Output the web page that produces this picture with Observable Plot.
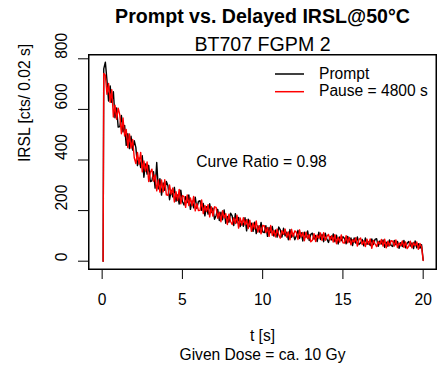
<!DOCTYPE html>
<html>
<head>
<meta charset="utf-8">
<script src="https://cdn.jsdelivr.net/npm/d3@7"></script>
<script src="https://cdn.jsdelivr.net/npm/@observablehq/plot@0.6"></script>
<style>
  html, body { margin: 0; padding: 0; background: #fff; }
  #chart { position: relative; width: 446px; height: 372px; }
  #chart > svg { display: block; }
  #box { position: absolute; box-sizing: border-box; border: 1px solid #000; pointer-events: none; }
</style>
</head>
<body>
<div id="chart"></div>
<script>
// ---- Texts ----
const titleText = "Prompt vs. Delayed IRSL@50°C";
const subtitleText = "BT707 FGPM 2";
const xLabel = "t [s]";
const doseLabel = "Given Dose = ca. 10 Gy";
const yLabel = "IRSL [cts/ 0.02 s]";
const ratioLabel = "Curve Ratio = 0.98";
const seriesNames = ["Prompt", "Pause = 4800 s"];
const seriesColors = ["#000000", "#ff0000"];

// ---- Tick values ----
const xTicks = [0, 5, 10, 15, 20];
const yTicks = [0, 200, 400, 600, 800];

// ---- Channel times [s] ----
const time = [0.06,
  0.1,0.2,0.3,0.4,0.5,0.6,0.7,0.8,0.9,1.0,
  1.1,1.2,1.3,1.4,1.5,1.6,1.7,1.8,1.9,2.0,
  2.1,2.2,2.3,2.4,2.5,2.6,2.7,2.8,2.9,3.0,
  3.1,3.2,3.3,3.4,3.5,3.6,3.7,3.8,3.9,4.0,
  4.1,4.2,4.3,4.4,4.5,4.6,4.7,4.8,4.9,5.0,
  5.1,5.2,5.3,5.4,5.5,5.6,5.7,5.8,5.9,6.0,
  6.1,6.2,6.3,6.4,6.5,6.6,6.7,6.8,6.9,7.0,
  7.1,7.2,7.3,7.4,7.5,7.6,7.7,7.8,7.9,8.0,
  8.1,8.2,8.3,8.4,8.5,8.6,8.7,8.8,8.9,9.0,
  9.1,9.2,9.3,9.4,9.5,9.6,9.7,9.8,9.9,10.0,
  10.1,10.2,10.3,10.4,10.5,10.6,10.7,10.8,10.9,11.0,
  11.1,11.2,11.3,11.4,11.5,11.6,11.7,11.8,11.9,12.0,
  12.1,12.2,12.3,12.4,12.5,12.6,12.7,12.8,12.9,13.0,
  13.1,13.2,13.3,13.4,13.5,13.6,13.7,13.8,13.9,14.0,
  14.1,14.2,14.3,14.4,14.5,14.6,14.7,14.8,14.9,15.0,
  15.1,15.2,15.3,15.4,15.5,15.6,15.7,15.8,15.9,16.0,
  16.1,16.2,16.3,16.4,16.5,16.6,16.7,16.8,16.9,17.0,
  17.1,17.2,17.3,17.4,17.5,17.6,17.7,17.8,17.9,18.0,
  18.1,18.2,18.3,18.4,18.5,18.6,18.7,18.8,18.9,19.0,
  19.1,19.2,19.3,19.4,19.5,19.6,19.7,19.8,19.9,
  20.0];

// ---- Prompt IRSL [cts / 0.02 s] ----
const prompt = [0,
  760,787,715,633,693,628,670,567,606,530,
  532,576,511,537,458,504,445,494,439,476,
  450,378,408,370,417,332,384,344,379,315,
  318,354,289,390,286,326,261,309,280,315,
  298,243,281,254,292,237,262,226,281,236,
  222,255,232,262,205,238,211,253,209,236,
  239,201,228,179,215,186,227,192,210,166,
  181,205,161,194,164,203,150,177,154,190,
  179,141,188,151,173,137,158,138,172,120,
  166,137,150,118,154,109,140,115,153,116,
  113,140,98,133,113,137,99,123,95,135,
  124,95,130,100,115,85,125,95,110,85,
  100,122,90,113,80,115,94,120,82,106,
  111,87,102,78,115,86,106,77,111,88,
  74,98,84,108,77,103,68,96,81,97,
  90,69,98,76,92,62,92,72,96,66,
  72,86,61,92,67,77,62,88,66,86,
  89,59,80,68,84,55,75,59,84,62,
  58,82,65,78,51,73,58,82,53,71,
  78,60,72,50,80,53,69,51,65,
  4];

// ---- Delayed (Pause = 4800 s) IRSL [cts / 0.02 s] ----
const delayed = [0,
  742,735,660,703,628,678,570,617,561,605,
  578,504,566,495,521,449,503,447,481,409,
  386,430,384,430,353,396,356,392,315,351,
  364,316,341,278,321,273,321,274,322,262,
  260,301,265,289,234,275,240,284,227,259,
  255,213,262,220,250,220,256,199,227,200,
  201,242,188,220,197,223,175,215,178,215,
  213,170,194,156,200,171,188,145,186,157,
  145,172,149,182,131,171,143,172,144,164,
  129,162,118,151,128,159,115,140,108,141,
  140,113,133,98,141,102,122,96,127,105,
  91,121,106,127,95,116,85,126,97,120,
  114,86,124,96,114,81,115,89,105,77,
  83,109,78,104,91,112,82,113,83,98,
  106,84,101,76,105,69,95,76,104,73,
  72,101,73,94,65,85,75,93,60,86,
  92,66,81,58,87,67,88,51,82,69,
  58,78,66,86,60,87,53,79,61,81,
  79,60,84,54,72,61,80,55,76,50,
  59,79,53,74,61,76,47,70,57,
  3];

const promptRows = time.map((t, i) => ({t, v: prompt[i]}));
const delayedRows = time.map((t, i) => ({t, v: delayed[i]}));

const FONT = '"Liberation Sans", Arial, Helvetica, sans-serif';
const FS = 15.6;
const xDomain = [-0.85, 20.83];
const yDomain = [-32.8, 817];
const W = 446, H = 372;
const M = {top: 54, right: 10, bottom: 103, left: 88};

// legend drawn inside the Plot SVG (render-function mark)
function legendMark() {
  const g = d3.create("svg:g").attr("aria-label", "legend");
  seriesNames.forEach((name, i) => {
    const y = 74 + 17.7 * i;
    g.append("line").attr("x1", 275).attr("x2", 304).attr("y1", y).attr("y2", y)
      .attr("stroke", seriesColors[i]).attr("stroke-width", 1.5);
    g.append("text").attr("x", 319).attr("y", y + 4.6).attr("font-size", FS)
      .attr("text-anchor", "start")
      .attr("font-family", FONT).attr("fill", "#000").text(name);
  });
  return g.node();
}

const plot = Plot.plot({
  width: W,
  height: H,
  marginTop: M.top,
  marginRight: M.right,
  marginBottom: M.bottom,
  marginLeft: M.left,
  style: {fontFamily: FONT, fontSize: FS + "px"},
  x: {domain: xDomain},
  y: {domain: yDomain},
  marks: [
    Plot.axisX({ticks: xTicks, tickSize: 10, tickFormat: () => "", label: null}),
    Plot.axisY({ticks: yTicks, tickSize: 10, tickFormat: () => "", label: null}),
    Plot.line(promptRows, {x: "t", y: "v", stroke: seriesColors[0], strokeWidth: 1.4}),
    Plot.line(delayedRows, {x: "t", y: "v", stroke: seriesColors[1], strokeWidth: 1.4}),
    Plot.frame({stroke: "#000", strokeWidth: 1, inset: 0.5}),
    // tick labels
    Plot.text(xTicks, {x: d => d, frameAnchor: "bottom", dy: 35, lineAnchor: "bottom", text: d => String(d), fontSize: FS}),
    Plot.text(yTicks, {y: d => d, frameAnchor: "left", dx: -21.3, rotate: -90, lineAnchor: "bottom", text: d => String(d), fontSize: FS}),
    // titles & labels
    Plot.text([titleText], {frameAnchor: "top", dy: -31.3, lineAnchor: "bottom", fontWeight: "bold", fontSize: 19.6, text: d => d}),
    Plot.text([subtitleText], {frameAnchor: "top", dy: -4, lineAnchor: "bottom", fontSize: 19.6, text: d => d}),
    Plot.text([xLabel], {frameAnchor: "bottom", dy: 71, lineAnchor: "bottom", fontSize: FS, text: d => d}),
    Plot.text([doseLabel], {frameAnchor: "bottom", dy: 90.5, lineAnchor: "bottom", fontSize: FS, text: d => d}),
    Plot.text([yLabel], {frameAnchor: "left", dx: -58.5, rotate: -90, lineAnchor: "bottom", fontSize: FS, text: d => d}),
    Plot.text([ratioLabel], {frameAnchor: "middle", dx: -1, dy: 4.5, lineAnchor: "bottom", fontSize: FS, text: d => d}),
    legendMark
  ]
});

const chart = document.getElementById("chart");
chart.appendChild(plot);

// plot box as an HTML overlay on the frame bounds
const box = document.createElement("div");
box.id = "box";
box.style.left = M.left + "px";
box.style.top = M.top + "px";
box.style.width = (W - M.left - M.right + 1) + "px";
box.style.height = (H - M.top - M.bottom + 1) + "px";
chart.appendChild(box);
</script>
</body>
</html>
